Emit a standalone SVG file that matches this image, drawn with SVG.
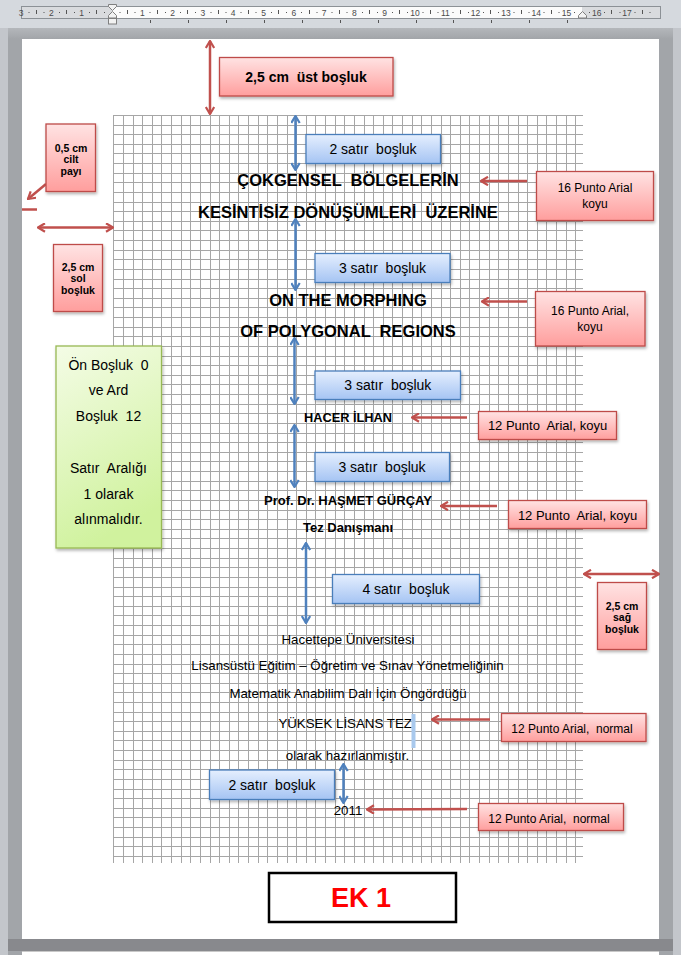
<svg xmlns="http://www.w3.org/2000/svg" width="681" height="955" viewBox="0 0 681 955" xml:space="preserve">
<defs>
<linearGradient id="gR" x1="0" y1="0" x2="0" y2="1"><stop offset="0" stop-color="#ffe3e3"/><stop offset="1" stop-color="#ff9e9d"/></linearGradient>
<linearGradient id="gB" x1="0" y1="0" x2="0" y2="1"><stop offset="0" stop-color="#e5effe"/><stop offset="1" stop-color="#a5c4f3"/></linearGradient>
<linearGradient id="gG" x1="0" y1="0" x2="0.3" y2="1"><stop offset="0" stop-color="#f4fce6"/><stop offset="1" stop-color="#d0f29e"/></linearGradient>
<linearGradient id="gTop" x1="0" y1="0" x2="0" y2="1"><stop offset="0" stop-color="#b4b7bb"/><stop offset="1" stop-color="#a2a5a9"/></linearGradient>
<filter id="sh" x="-20%" y="-20%" width="140%" height="150%"><feDropShadow dx="1" dy="2" stdDeviation="1.4" flood-color="#000" flood-opacity="0.3"/></filter>
<marker id="mR" viewBox="0 0 10 10" refX="9" refY="5" markerWidth="10" markerHeight="10" markerUnits="userSpaceOnUse" orient="auto-start-reverse"><path d="M2,0.8 L9,5 L2,9.2" fill="none" stroke="#c0504d" stroke-width="2.2"/></marker>
<marker id="mB" viewBox="0 0 10 10" refX="9" refY="5" markerWidth="10" markerHeight="10" markerUnits="userSpaceOnUse" orient="auto-start-reverse"><path d="M2,0.8 L9,5 L2,9.2" fill="none" stroke="#4f81bd" stroke-width="2.2"/></marker>
<style>
text{font-family:"Liberation Sans",Arial,sans-serif;fill:#000;white-space:pre}
.c{text-anchor:middle}
.b{font-weight:bold}
.rb{fill:url(#gR);stroke:#be4b48;stroke-width:1.3;filter:url(#sh)}
.bb{fill:url(#gB);stroke:#4a7ebb;stroke-width:1.3;filter:url(#sh)}
.gb{fill:url(#gG);stroke:#98b954;stroke-width:1.3;filter:url(#sh)}
.ar{stroke:#c0504d;stroke-width:2.5;fill:none}
.ab{stroke:#4f81bd;stroke-width:2.5;fill:none}
.e1{marker-end:url(#mR)}
.e2{marker-start:url(#mR);marker-end:url(#mR)}
.b2{marker-start:url(#mB);marker-end:url(#mB)}
.rn{font-size:8.5px;fill:#4a4a4a}
.d{font-size:13.3px}
</style>
</defs>
<g id="background">
<rect x="0" y="0" width="681" height="955" fill="#c3c6cb"/>
<rect x="0" y="0" width="681" height="28" fill="#d5d9de"/>
<rect x="8" y="28" width="665" height="927" fill="#a2a5a9"/>
<rect x="8" y="28" width="665" height="11" fill="url(#gTop)"/>
<rect x="22" y="39" width="637" height="900" fill="#ffffff"/>
<rect x="8" y="939" width="665" height="12" fill="#88898d"/>
<rect x="22" y="951" width="637" height="4" fill="#ffffff"/>
<line x1="22" y1="951.5" x2="659" y2="951.5" stroke="#c8c8c8"/>
</g>
<g id="ruler">
<rect x="21.5" y="6.5" width="639" height="12" fill="#d9dbde" stroke="#8c9196"/>
<rect x="112" y="7" width="470" height="11" fill="#fbfbfb"/>
<path d="M36.5 10v4M66.5 10v4M96.5 10v4M127.5 10v4M157.5 10v4M187.5 10v4M218.5 10v4M248.5 10v4M278.5 10v4M309.5 10v4M339.5 10v4M369.5 10v4M399.5 10v4M430.5 10v4M460.5 10v4M490.5 10v4M521.5 10v4M551.5 10v4M611.5 10v4M642.5 10v4" stroke="#555" stroke-width="1"/>
<path d="M28.5 12.5h1M59 12.5h1M89 12.5h1M119.5 12.5h1M149.5 12.5h1M180 12.5h1M210.5 12.5h1M240.5 12.5h1M271 12.5h1M301 12.5h1M331.5 12.5h1M362 12.5h1M392 12.5h1M422.5 12.5h1M452.5 12.5h1M483 12.5h1M513.5 12.5h1M543.5 12.5h1M574 12.5h1M604 12.5h1M634.5 12.5h1M43.5 12.5h1M74 12.5h1M104 12.5h1M134.5 12.5h1M165 12.5h1M195 12.5h1M225.5 12.5h1M255.5 12.5h1M286 12.5h1M316.5 12.5h1M346.5 12.5h1M377 12.5h1M407 12.5h1M437.5 12.5h1M468 12.5h1M498 12.5h1M528.5 12.5h1M558.5 12.5h1M589 12.5h1M619.5 12.5h1M649.5 12.5h1" stroke="#555" stroke-width="1.2"/>
<path d="M150.5 20v3M188.5 20v3M226.5 20v3M264.5 20v3M302.5 20v3M340.5 20v3M378.5 20v3M416.5 20v3M453.5 20v3M491.5 20v3M529.5 20v3M567.5 20v3" stroke="#555" stroke-width="1"/>
<g>
<text class="c rn" x="21" y="15.5">3</text>
<text class="c rn" x="51.4" y="15.5">2</text>
<text class="c rn" x="81.7" y="15.5">1</text>
<text class="c rn" x="142.3" y="15.5">1</text>
<text class="c rn" x="172.6" y="15.5">2</text>
<text class="c rn" x="202.9" y="15.5">3</text>
<text class="c rn" x="233.2" y="15.5">4</text>
<text class="c rn" x="263.5" y="15.5">5</text>
<text class="c rn" x="293.8" y="15.5">6</text>
<text class="c rn" x="324.1" y="15.5">7</text>
<text class="c rn" x="354.4" y="15.5">8</text>
<text class="c rn" x="384.7" y="15.5">9</text>
<text class="c rn" x="415" y="15.5">10</text>
<text class="c rn" x="445.3" y="15.5">11</text>
<text class="c rn" x="475.6" y="15.5">12</text>
<text class="c rn" x="505.9" y="15.5">13</text>
<text class="c rn" x="536.2" y="15.5">14</text>
<text class="c rn" x="566.5" y="15.5">15</text>
<text class="c rn" x="596.8" y="15.5">16</text>
<text class="c rn" x="627.1" y="15.5">17</text>
</g>
<g fill="#f2f2f2" stroke="#7f7f7f" stroke-width="1">
<polygon points="108.5,4.5 116.5,4.5 116.5,6.5 112.5,10.5 108.5,6.5"/>
<polygon points="112.5,11.5 116.5,15.5 116.5,18 108.5,18 108.5,15.5"/>
<rect x="108.5" y="18.5" width="8" height="5.5"/>
<polygon points="582.5,11.5 586.5,15.5 586.5,18 578.5,18 578.5,15.5"/>
</g>
</g>
<g id="grid" stroke="#a6a6a6" stroke-width="1" fill="none">
<path d="M113 115.5H583M113 125.5H583M113 134.5H583M113 144.5H583M113 153.5H583M113 163.5H583M113 173.5H583M113 182.5H583M113 192.5H583M113 202.5H583M113 211.5H583M113 221.5H583M113 230.5H583M113 240.5H583M113 250.5H583M113 259.5H583M113 269.5H583M113 279.5H583M113 288.5H583M113 298.5H583M113 307.5H583M113 317.5H583M113 327.5H583M113 336.5H583M113 346.5H583M113 356.5H583M113 365.5H583M113 375.5H583M113 384.5H583M113 394.5H583M113 404.5H583M113 413.5H583M113 423.5H583M113 433.5H583M113 442.5H583M113 452.5H583M113 461.5H583M113 471.5H583M113 481.5H583M113 490.5H583M113 500.5H583M113 510.5H583M113 519.5H583M113 529.5H583M113 538.5H583M113 548.5H583M113 558.5H583M113 567.5H583M113 577.5H583M113 587.5H583M113 596.5H583M113 606.5H583M113 615.5H583M113 625.5H583M113 635.5H583M113 644.5H583M113 654.5H583M113 664.5H583M113 673.5H583M113 683.5H583M113 692.5H583M113 702.5H583M113 712.5H583M113 721.5H583M113 731.5H583M113 740.5H583M113 750.5H583M113 760.5H583M113 769.5H583M113 779.5H583M113 789.5H583M113 798.5H583M113 808.5H583M113 817.5H583M113 827.5H583M113 837.5H583M113 846.5H583M113 856.5H583"/>
<path d="M113.5 115V863M123.5 115V863M133.5 115V863M142.5 115V863M152.5 115V863M161.5 115V863M171.5 115V863M181.5 115V863M190.5 115V863M200.5 115V863M210.5 115V863M219.5 115V863M229.5 115V863M238.5 115V863M248.5 115V863M258.5 115V863M267.5 115V863M277.5 115V863M287.5 115V863M296.5 115V863M306.5 115V863M315.5 115V863M325.5 115V863M335.5 115V863M344.5 115V863M354.5 115V863M364.5 115V863M373.5 115V863M383.5 115V863M392.5 115V863M402.5 115V863M412.5 115V863M421.5 115V863M431.5 115V863M441.5 115V863M450.5 115V863M460.5 115V863M469.5 115V863M479.5 115V863M489.5 115V863M498.5 115V863M508.5 115V863M518.5 115V863M527.5 115V863M537.5 115V863M546.5 115V863M556.5 115V863M566.5 115V863M575.5 115V863"/>
</g>
<g id="document-text">
<text class="c b" x="348" y="186" font-size="16.5">ÇOKGENSEL  BÖLGELERİN</text>
<text class="c b" x="348" y="217.5" font-size="16.5">KESİNTİSİZ DÖNÜŞÜMLERİ  ÜZERİNE</text>
<text class="c b" x="348" y="305.5" font-size="16.5">ON THE MORPHING</text>
<text class="c b" x="348" y="336.5" font-size="16.5">OF POLYGONAL  REGIONS</text>
<text class="c b" x="348" y="421.5" font-size="12.8">HACER İLHAN</text>
<text class="c b" x="348" y="505" font-size="13">Prof. Dr. HAŞMET GÜRÇAY</text>
<text class="c b" x="348" y="531.5" font-size="13">Tez Danışmanı</text>
<text class="c d" x="348" y="643.5">Hacettepe Üniversitesi</text>
<text class="c d" x="347.5" y="670">Lisansüstü Eğitim – Öğretim ve Sınav Yönetmeliğinin</text>
<text class="c d" x="348" y="697.5">Matematik Anabilim Dalı İçin Öngördüğü</text>
<text class="c d" x="347" y="728">YÜKSEK LİSANS TEZİ</text>
<rect x="411.5" y="714" width="4" height="34" fill="#a9c9ed"/>
<text class="c d" x="347.5" y="760">olarak hazırlanmıştır.</text>
<text class="c d" x="348" y="815">2011</text>
</g>
<g id="connectors">
<line class="ar e2" x1="210" y1="41" x2="210" y2="114"/>
<path class="ar" d="M22 209.5H37"/>
<line class="ar e1" x1="46" y1="184" x2="28" y2="199"/>
<line class="ar e2" x1="38" y1="227.5" x2="113" y2="227.5"/>
<line class="ar e1" x1="527" y1="181" x2="481" y2="181"/>
<line class="ar e1" x1="527" y1="301.5" x2="482" y2="301.5"/>
<line class="ar e1" x1="467" y1="417.5" x2="412" y2="417.5"/>
<line class="ar e1" x1="497" y1="506" x2="441" y2="506"/>
<line class="ar e2" x1="584" y1="574" x2="659" y2="574"/>
<line class="ar e1" x1="490" y1="719.5" x2="432" y2="719.5"/>
<line class="ar e1" x1="467" y1="809" x2="367" y2="809.5"/>
<line class="ab b2" x1="295.5" y1="116" x2="295.5" y2="170"/>
<line class="ab b2" x1="295.5" y1="219" x2="295.5" y2="290"/>
<line class="ab b2" x1="294.5" y1="338" x2="294.5" y2="404"/>
<line class="ab b2" x1="294.5" y1="425" x2="294.5" y2="487"/>
<line class="ab b2" x1="306" y1="543" x2="306" y2="623"/>
<line class="ab b2" x1="343.5" y1="764" x2="343.5" y2="803"/>
</g>
<g id="ust-bosluk">
<rect class="rb" x="219.5" y="57.5" width="173.5" height="38.5"/>
<text class="c b" x="306" y="81.5" font-size="14">2,5 cm  üst boşluk</text>
</g>
<g id="cilt-payi">
<rect class="rb" x="46" y="124" width="49.5" height="67.5"/>
<text class="c b" x="71" y="151.5" font-size="10.5">0,5 cm</text>
<text class="c b" x="71" y="163" font-size="10.5">cilt</text>
<text class="c b" x="71" y="174.8" font-size="10.5">payı</text>
</g>
<g id="sol-bosluk">
<rect class="rb" x="53.5" y="244.5" width="49" height="67"/>
<text class="c b" x="78" y="270.5" font-size="10.5">2,5 cm</text>
<text class="c b" x="78" y="282" font-size="10.5">sol</text>
<text class="c b" x="78" y="293.8" font-size="10.5">boşluk</text>
</g>
<g id="sag-bosluk">
<rect class="rb" x="597.5" y="582.5" width="49" height="67"/>
<text class="c b" x="622" y="609.5" font-size="10.5">2,5 cm</text>
<text class="c b" x="622" y="621" font-size="10.5">sağ</text>
<text class="c b" x="622" y="632.5" font-size="10.5">boşluk</text>
</g>
<g id="satir-araligi">
<rect class="gb" x="56" y="346" width="105.5" height="202"/>
<text class="c" x="108.5" y="369.5" font-size="14">Ön Boşluk  0</text>
<text class="c" x="108.5" y="395" font-size="14">ve Ard</text>
<text class="c" x="108.5" y="421" font-size="14">Boşluk  12</text>
<text class="c" x="108.5" y="472.5" font-size="14">Satır  Aralığı</text>
<text class="c" x="108.5" y="498.5" font-size="14">1 olarak</text>
<text class="c" x="108.5" y="523.5" font-size="14">alınmalıdır.</text>
</g>
<g id="bosluk-2a">
<rect class="bb" x="306" y="134.5" width="134.5" height="29"/>
<text class="c" x="373" y="154" font-size="14">2 satır  boşluk</text>
</g>
<g id="bosluk-3a">
<rect class="bb" x="315" y="253.5" width="135" height="29"/>
<text class="c" x="382.5" y="273" font-size="14">3 satır  boşluk</text>
</g>
<g id="bosluk-3b">
<rect class="bb" x="315" y="371" width="145.5" height="28.5"/>
<text class="c" x="387.8" y="390" font-size="14">3 satır  boşluk</text>
</g>
<g id="bosluk-3c">
<rect class="bb" x="315" y="452.5" width="134.5" height="29"/>
<text class="c" x="382" y="472" font-size="14">3 satır  boşluk</text>
</g>
<g id="bosluk-4">
<rect class="bb" x="332.5" y="574.5" width="147" height="29"/>
<text class="c" x="406" y="594" font-size="14">4 satır  boşluk</text>
</g>
<g id="bosluk-2b">
<rect class="bb" x="209.5" y="770" width="125" height="29.5"/>
<text class="c" x="272" y="790" font-size="14">2 satır  boşluk</text>
</g>
<g id="punto16-a">
<rect class="rb" x="536.5" y="171.5" width="117" height="49"/>
<text class="c" x="595" y="192" font-size="12">16 Punto Arial</text>
<text class="c" x="595" y="208" font-size="12">koyu</text>
</g>
<g id="punto16-b">
<rect class="rb" x="535.5" y="291.5" width="109.5" height="54.5"/>
<text class="c" x="590" y="315" font-size="12">16 Punto Arial,</text>
<text class="c" x="590" y="331" font-size="12">koyu</text>
</g>
<g id="punto12-koyu-a">
<rect class="rb" x="478.5" y="411.5" width="138" height="28"/>
<text class="c" x="547.5" y="430" font-size="13">12 Punto  Arial, koyu</text>
</g>
<g id="punto12-koyu-b">
<rect class="rb" x="508.5" y="500.5" width="138" height="28"/>
<text class="c" x="577.5" y="519.5" font-size="13">12 Punto  Arial, koyu</text>
</g>
<g id="punto12-normal-a">
<rect class="rb" x="501.5" y="713.5" width="144.5" height="28"/>
<text class="c" x="572" y="732.5" font-size="12">12 Punto Arial,  normal</text>
</g>
<g id="punto12-normal-b">
<rect class="rb" x="478.5" y="803.5" width="145" height="27"/>
<text class="c" x="549" y="822.5" font-size="12">12 Punto Arial,  normal</text>
</g>
<g id="ek1">
<rect x="269" y="873" width="187" height="49" fill="#ffffff" stroke="#000000" stroke-width="2.5"/>
<text class="c b" x="361" y="906.5" font-size="27" style="fill:#ff0000">EK 1</text>
</g>
</svg>
